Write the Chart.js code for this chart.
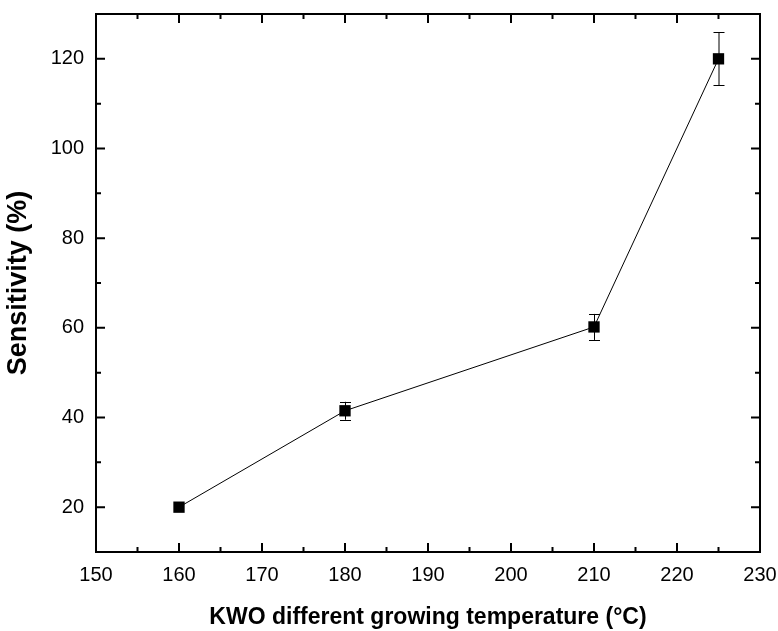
<!DOCTYPE html>
<html>
<head>
<meta charset="utf-8">
<script src="https://cdn.jsdelivr.net/npm/chart.js@4.4.1/dist/chart.umd.min.js"></script>
<style>
  html, body { margin: 0; padding: 0; background: #fff; }
  #wrap { width: 778px; height: 631px; }
</style>
</head>
<body>
<div id="wrap"><canvas id="c" width="778" height="631"></canvas></div>
<script>
// ---- data ----
const temperatures = [160, 180, 210, 225];
const sensitivity = [20, 41.5, 60.2, 120];
const sensitivityErr = [0, 2.0, 2.9, 5.9];
const xMajorTicks = [150, 160, 170, 180, 190, 200, 210, 220, 230];
const xMinorTicks = [155, 165, 175, 185, 195, 205, 215, 225];
const yMajorTicks = [20, 40, 60, 80, 100, 120];
const yMinorTicks = [30, 50, 70, 90, 110];
const xTitle = 'KWO different growing temperature (°C)';
const yTitle = 'Sensitivity (%)';

const FONT = '"Liberation Sans", Arial, Helvetica, sans-serif';

const framePlugin = {
  id: 'frameTicks',
  beforeDatasetsDraw(chart) {
    const {ctx, scales: {x, y}} = chart;
    ctx.save();
    ctx.strokeStyle = '#000';
    ctx.lineWidth = 1;
    const cap = 5;
    temperatures.forEach((t, i) => {
      const e = sensitivityErr[i];
      if (!e) return;
      const px = x.getPixelForValue(t);
      const y1 = y.getPixelForValue(sensitivity[i] + e);
      const y2 = y.getPixelForValue(sensitivity[i] - e);
      ctx.beginPath();
      ctx.moveTo(px + 0.5, y1);
      ctx.lineTo(px + 0.5, y2);
      ctx.moveTo(px - cap, Math.round(y1) + 0.5);
      ctx.lineTo(px + cap + 1, Math.round(y1) + 0.5);
      ctx.moveTo(px - cap, Math.round(y2) + 0.5);
      ctx.lineTo(px + cap + 1, Math.round(y2) + 0.5);
      ctx.stroke();
    });
    ctx.restore();
  },
  afterDatasetsDraw(chart) {
    const {ctx, chartArea: a, scales: {x, y}} = chart;
    ctx.save();
    ctx.strokeStyle = '#000';
    ctx.lineWidth = 2;
    ctx.strokeRect(a.left, a.top, a.right - a.left, a.bottom - a.top);
    const major = 9, minor = 5;
    ctx.beginPath();
    const xt = (v, len) => {
      const px = x.getPixelForValue(v);
      ctx.moveTo(px, a.bottom); ctx.lineTo(px, a.bottom - len);
      ctx.moveTo(px, a.top); ctx.lineTo(px, a.top + len);
    };
    const yt = (v, len) => {
      const py = y.getPixelForValue(v);
      ctx.moveTo(a.left, py); ctx.lineTo(a.left + len, py);
      ctx.moveTo(a.right, py); ctx.lineTo(a.right - len, py);
    };
    xMajorTicks.forEach(v => xt(v, major));
    xMinorTicks.forEach(v => xt(v, minor));
    yMajorTicks.forEach(v => yt(v, major));
    yMinorTicks.forEach(v => yt(v, minor));
    ctx.stroke();
    ctx.restore();
  }
};

new Chart(document.getElementById('c'), {
  type: 'scatter',
  data: {
    datasets: [{
      data: temperatures.map((t, i) => ({x: t, y: sensitivity[i]})),
      showLine: true,
      borderColor: '#000',
      borderWidth: 1,
      pointStyle: 'rect',
      pointRadius: 8,
      pointHoverRadius: 8,
      pointBackgroundColor: '#000',
      pointBorderWidth: 0,
      tension: 0
    }]
  },
  options: {
    responsive: false,
    animation: false,
    layout: { padding: { top: 14, right: 18, left: 0, bottom: 0 } },
    plugins: { legend: { display: false }, tooltip: { enabled: false } },
    scales: {
      x: {
        type: 'linear',
        min: 150, max: 230,
        afterFit(s) { s.height = 79; s.paddingLeft = 0; s.paddingRight = 0; },
        afterBuildTicks(s) { s.ticks = xMajorTicks.map(v => ({value: v})); },
        grid: { display: false, drawTicks: false },
        border: { display: false },
        ticks: { color: '#000', padding: 11, font: { family: FONT, size: 20 } },
        title: { display: true, text: xTitle, color: '#000', padding: {top: 0, bottom: 0},
                 font: { family: FONT, size: 23, weight: 'bold' } }
      },
      y: {
        type: 'linear',
        min: 10, max: 130,
        afterFit(s) { s.width = 96; s.paddingTop = 0; s.paddingBottom = 0; },
        afterBuildTicks(s) { s.ticks = yMajorTicks.map(v => ({value: v})); },
        grid: { display: false, drawTicks: false },
        border: { display: false },
        ticks: { color: '#000', padding: 12, font: { family: FONT, size: 20 } },
        title: { display: true, text: yTitle, color: '#000', padding: {top: 2, bottom: 0},
                 font: { family: FONT, size: 27, weight: 'bold' } }
      }
    }
  },
  plugins: [framePlugin]
});
</script>
</body>
</html>
